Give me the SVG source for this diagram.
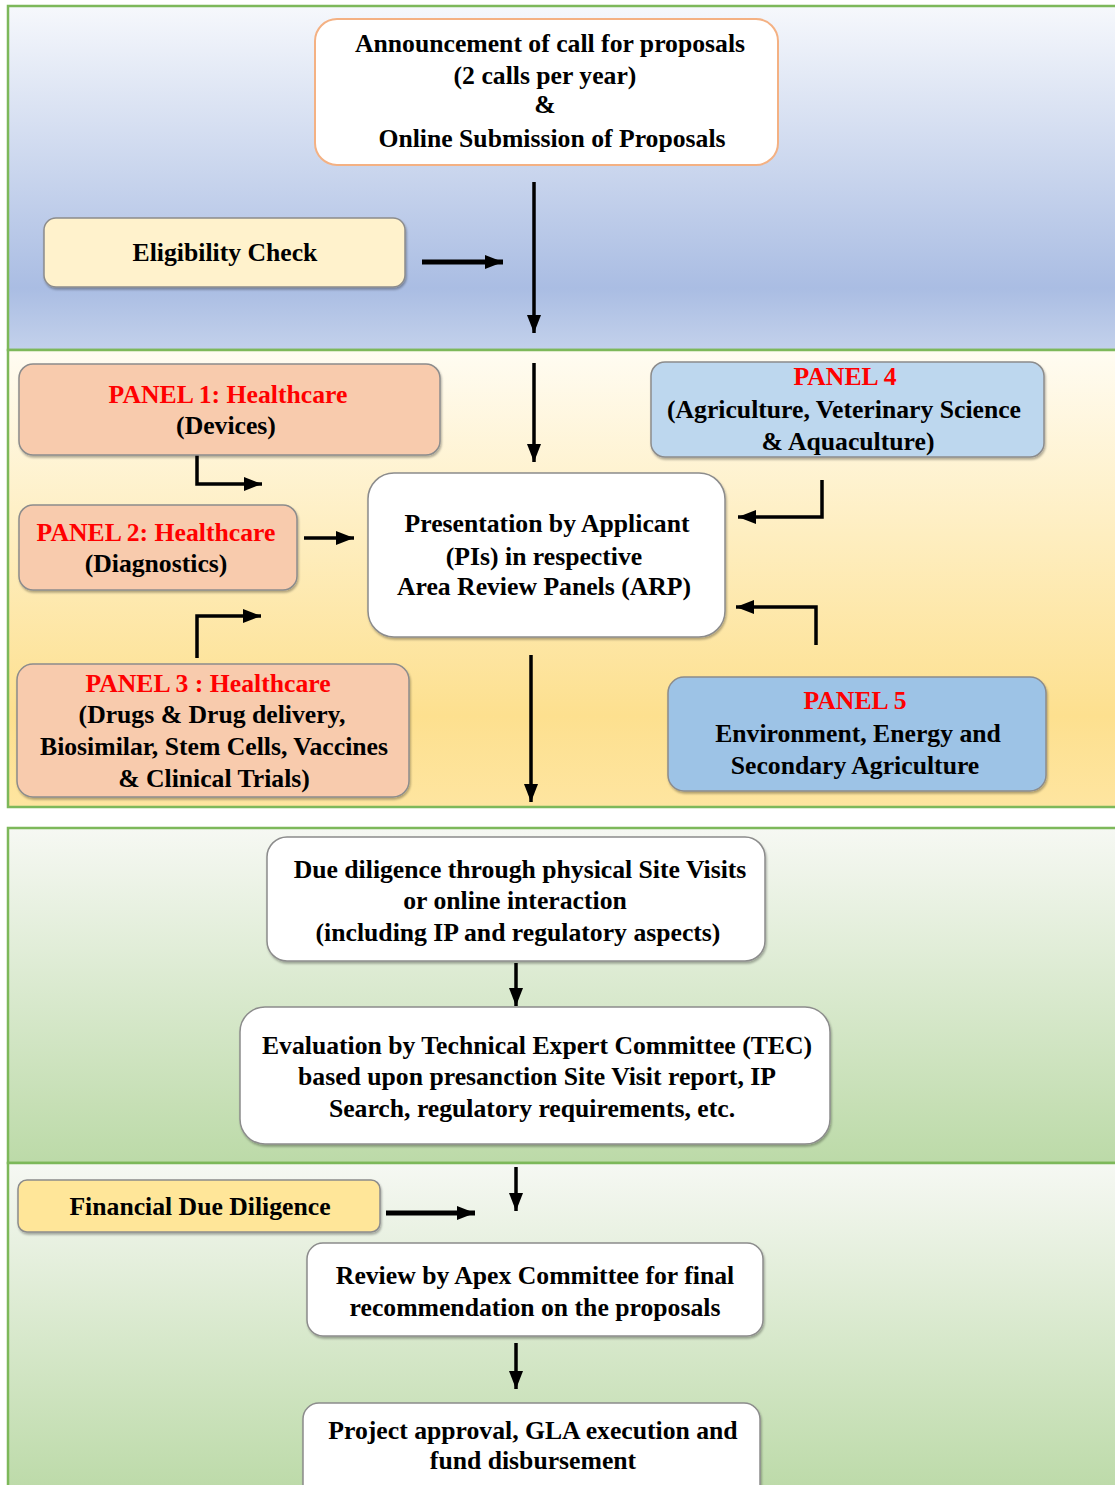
<svg xmlns="http://www.w3.org/2000/svg" width="1115" height="1485" viewBox="0 0 1115 1485">
<style>
.band{stroke:#7db85a;stroke-width:2.5}
.box{stroke:#8c8c8c;stroke-width:1.5}
.t{font-family:"Liberation Serif","Times New Roman",serif;font-weight:bold;font-size:25.7px;fill:#000;text-anchor:middle}
.r{fill:#ff0000}
.c{fill:none;stroke:#000;stroke-width:3.5}
.ct{fill:none;stroke:#000;stroke-width:5}
</style>
<defs>
<linearGradient id="g1" x1="0" y1="0" x2="0" y2="1">
<stop offset="0" stop-color="#f6f8fc"/><stop offset="0.82" stop-color="#aabde3"/><stop offset="1" stop-color="#c3d1eb"/>
</linearGradient>
<linearGradient id="g2" x1="0" y1="0" x2="0" y2="1">
<stop offset="0" stop-color="#fffcf2"/><stop offset="0.8" stop-color="#fde08f"/><stop offset="1" stop-color="#fee5a0"/>
</linearGradient>
<linearGradient id="g3" x1="0" y1="0" x2="0" y2="1">
<stop offset="0" stop-color="#f6f8f3"/><stop offset="1" stop-color="#bcdaa8"/>
</linearGradient>
<linearGradient id="g4" x1="0" y1="0" x2="0" y2="1">
<stop offset="0" stop-color="#f6f8f3"/><stop offset="1" stop-color="#bcdaa8"/>
</linearGradient>
<filter id="sh" x="-5%" y="-5%" width="110%" height="115%">
<feDropShadow dx="1" dy="2" stdDeviation="1.2" flood-color="#000" flood-opacity="0.3"/>
</filter>
<marker id="ah" markerUnits="userSpaceOnUse" markerWidth="20" markerHeight="20" viewBox="0 0 20 20" refX="18" refY="10" orient="auto">
<path d="M0,3 L18,10 L0,17 Z" fill="#000"/>
</marker>
</defs>

<g id="bands">
<rect class="band" x="8" y="6" width="1120" height="344" fill="url(#g1)"/>
<rect class="band" x="8" y="350" width="1120" height="457" fill="url(#g2)"/>
<rect class="band" x="8" y="828" width="1120" height="335" fill="url(#g3)"/>
<rect class="band" x="8" y="1163" width="1120" height="330" fill="url(#g4)"/>
</g>

<g id="connectors">
<line class="ct" x1="422" y1="262" x2="503" y2="262" marker-end="url(#ah)"/>
<line class="c" x1="534" y1="182" x2="534" y2="333" marker-end="url(#ah)"/>
<line class="c" x1="534" y1="363" x2="534" y2="462" marker-end="url(#ah)"/>
<polyline class="c" points="197,452 197,484 262,484" marker-end="url(#ah)"/>
<line class="c" x1="304" y1="538" x2="354" y2="538" marker-end="url(#ah)"/>
<polyline class="c" points="197,658 197,616 261,616" marker-end="url(#ah)"/>
<polyline class="c" points="822,480 822,517 738,517" marker-end="url(#ah)"/>
<polyline class="c" points="816,645 816,607 736,607" marker-end="url(#ah)"/>
<line class="c" x1="531" y1="655" x2="531" y2="802" marker-end="url(#ah)"/>
<line class="c" x1="516" y1="963" x2="516" y2="1006" marker-end="url(#ah)"/>
<line class="c" x1="516" y1="1167" x2="516" y2="1211" marker-end="url(#ah)"/>
<line class="ct" x1="386" y1="1213" x2="475" y2="1213" marker-end="url(#ah)"/>
<line class="c" x1="516" y1="1343" x2="516" y2="1389" marker-end="url(#ah)"/>
</g>

<g id="announcement">
<rect x="315" y="19" width="463" height="146" rx="22" fill="#fff" stroke="#f4b183" stroke-width="2"/>
<text class="t" x="550" y="52">Announcement of call for proposals</text>
<text class="t" x="545" y="84">(2 calls per year)</text>
<text class="t" x="545" y="113">&amp;</text>
<text class="t" x="552" y="147">Online Submission of Proposals</text>
</g>

<g id="eligibility">
<rect class="box" x="44" y="218" width="361" height="69" rx="12" fill="#fff2cc" filter="url(#sh)"/>
<text class="t" x="225" y="261">Eligibility Check</text>
</g>

<g id="panel1">
<rect class="box" x="19" y="364" width="421" height="91" rx="14" fill="#f8cbad" filter="url(#sh)"/>
<text class="t r" x="228" y="403">PANEL 1: Healthcare</text>
<text class="t" x="226" y="434">(Devices)</text>
</g>

<g id="panel2">
<rect class="box" x="19" y="505" width="278" height="85" rx="14" fill="#f8cbad" filter="url(#sh)"/>
<text class="t r" x="156" y="541">PANEL 2: Healthcare</text>
<text class="t" x="156" y="572">(Diagnostics)</text>
</g>

<g id="panel3">
<rect class="box" x="17" y="664" width="392" height="133" rx="16" fill="#f8cbad" filter="url(#sh)"/>
<text class="t r" x="208" y="692">PANEL 3 : Healthcare</text>
<text class="t" x="212" y="723">(Drugs &amp; Drug delivery,</text>
<text class="t" x="214" y="755">Biosimilar, Stem Cells, Vaccines</text>
<text class="t" x="214" y="787">&amp; Clinical Trials)</text>
</g>

<g id="presentation">
<rect class="box" x="368" y="473" width="357" height="164" rx="26" fill="#fff" filter="url(#sh)"/>
<text class="t" x="547" y="532">Presentation by Applicant</text>
<text class="t" x="544" y="565">(PIs) in respective</text>
<text class="t" x="544" y="595">Area Review Panels (ARP)</text>
</g>

<g id="panel4">
<rect class="box" x="651" y="362" width="393" height="95" rx="14" fill="#bdd7ee" filter="url(#sh)"/>
<text class="t r" x="845" y="385">PANEL 4</text>
<text class="t" x="844" y="418">(Agriculture, Veterinary Science</text>
<text class="t" x="848" y="450">&amp; Aquaculture)</text>
</g>

<g id="panel5">
<rect class="box" x="668" y="677" width="378" height="114" rx="16" fill="#9dc3e6" filter="url(#sh)"/>
<text class="t r" x="855" y="709">PANEL 5</text>
<text class="t" x="858" y="742">Environment, Energy and</text>
<text class="t" x="855" y="774">Secondary Agriculture</text>
</g>

<g id="duediligence">
<rect class="box" x="267" y="837" width="498" height="124" rx="20" fill="#fff" filter="url(#sh)"/>
<text class="t" x="520" y="878">Due diligence through physical Site Visits</text>
<text class="t" x="515" y="909">or online interaction</text>
<text class="t" x="518" y="941">(including IP and regulatory aspects)</text>
</g>

<g id="evaluation">
<rect class="box" x="240" y="1007" width="590" height="137" rx="25" fill="#fff" filter="url(#sh)"/>
<text class="t" x="537" y="1054">Evaluation by Technical Expert Committee (TEC)</text>
<text class="t" x="537" y="1085">based upon presanction Site Visit report, IP</text>
<text class="t" x="532" y="1117">Search, regulatory requirements, etc.</text>
</g>

<g id="financial">
<rect class="box" x="18" y="1180" width="362" height="52" rx="9" fill="#ffe699" filter="url(#sh)"/>
<text class="t" x="200" y="1215">Financial Due Diligence</text>
</g>

<g id="apex">
<rect class="box" x="307" y="1243" width="456" height="93" rx="16" fill="#fff" filter="url(#sh)"/>
<text class="t" x="535" y="1284">Review by Apex Committee for final</text>
<text class="t" x="535" y="1316">recommendation on the proposals</text>
</g>

<g id="approval">
<rect class="box" x="303" y="1403" width="457" height="100" rx="16" fill="#fff" filter="url(#sh)"/>
<text class="t" x="533" y="1439">Project approval, GLA execution and</text>
<text class="t" x="533" y="1469">fund disbursement</text>
</g>
</svg>
